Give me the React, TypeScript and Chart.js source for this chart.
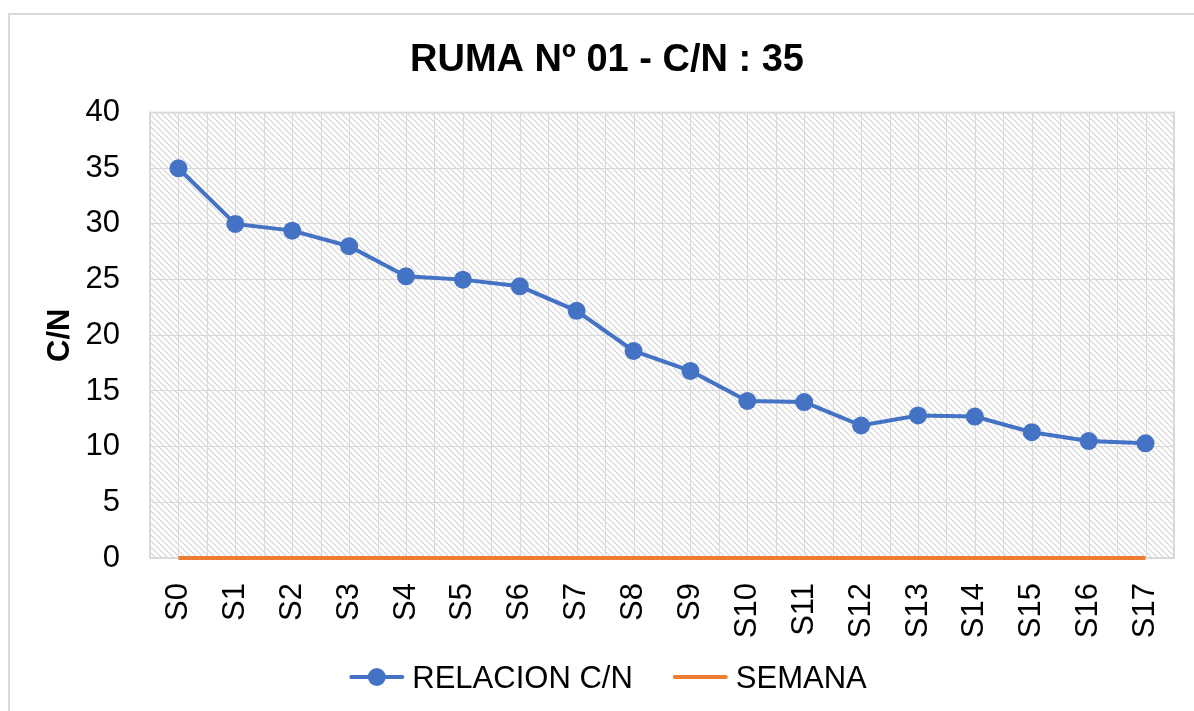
import React, { useEffect, useRef } from "react";
import { Chart, registerables } from "chart.js";

Chart.register(...registerables);

const categories = ["S0", "S1", "S2", "S3", "S4", "S5", "S6", "S7", "S8", "S9", "S10", "S11", "S12", "S13", "S14", "S15", "S16", "S17"];
const relacionCN = [35, 30, 29.4, 28, 25.3, 25, 24.4, 22.2, 18.6, 16.8, 14.1, 14, 11.9, 12.8, 12.7, 11.3, 10.5, 10.3];
const semana = [0, 0, 0, 0, 0, 0, 0, 0, 0, 0, 0, 0, 0, 0, 0, 0, 0, 0];
const titleText = "RUMA Nº 01 - C/N : 35";
const yTitle = "C/N";
const seriesNames = ["RELACION C/N", "SEMANA"];

const FONT = "'Liberation Sans', Arial, sans-serif";
const BLUE = "#4472C4";
const ORANGE = "#ED7D31";
const GRID = "#d9d9d9";

function makePattern(): CanvasPattern | string {
  const s = 6;
  const c = document.createElement("canvas");
  c.width = s;
  c.height = s;
  const g = c.getContext("2d");
  if (!g) return "#f2f2f2";
  g.fillStyle = "#ffffff";
  g.fillRect(0, 0, s, s);
  g.strokeStyle = "#d4d4d4";
  g.lineWidth = 1.2;
  for (const k of [-s, 0, s]) {
    g.beginPath();
    g.moveTo(k, 0);
    g.lineTo(k + s, s);
    g.stroke();
  }
  const p = g.createPattern(c, "repeat");
  return p || "#f2f2f2";
}

export default function App() {
  const ref = useRef<HTMLCanvasElement | null>(null);

  useEffect(() => {
    if (!ref.current) return;
    Chart.defaults.color = "#000";
    Chart.defaults.font.family = FONT;
    const pattern = makePattern();

    const bgPlugin = {
      id: "bgPattern",
      beforeDraw(chart: any) {
        const { ctx, chartArea: a } = chart;
        ctx.save();
        ctx.fillStyle = pattern;
        ctx.fillRect(a.left, a.top, a.right - a.left, a.bottom - a.top);
        ctx.restore();
      },
      beforeDatasetsDraw(chart: any) {
        const { ctx, chartArea: a, scales } = chart;
        const x = scales.x;
        const n = categories.length;
        const step = x.getPixelForValue(1) - x.getPixelForValue(0);
        ctx.save();
        ctx.strokeStyle = GRID;
        ctx.lineWidth = 1;
        const vline = (px: number) => {
          const xx = Math.round(px) + 0.5;
          ctx.beginPath();
          ctx.moveTo(xx, a.top);
          ctx.lineTo(xx, a.bottom);
          ctx.stroke();
        };
        for (let i = 0; i < n; i++) {
          const c = x.getPixelForValue(i);
          vline(c);
          vline(c - step / 2);
        }
        vline(x.getPixelForValue(n - 1) + step / 2);
        ctx.lineWidth = 2;
        ctx.strokeRect(a.left, a.top, a.right - a.left, a.bottom - a.top);
        ctx.restore();
      },
    };

    const legendPlugin = {
      id: "excelLegend",
      afterDraw(chart: any) {
        const { ctx } = chart;
        const iconW = 55;
        const gapIconText = 8;
        const gapItems = 40;
        const centerX = 608;
        const midY = 677;
        const baseY = 688;
        ctx.save();
        ctx.font = `31px ${FONT}`;
        const items = chart.data.datasets.map((d: any) => ({
          text: String(d.label),
          color: d.borderColor,
          point: (d.pointRadius || 0) > 0,
          r: d.pointRadius || 0,
          w: ctx.measureText(String(d.label)).width,
        }));
        let total = 0;
        items.forEach((it: any, i: number) => {
          total += iconW + gapIconText + it.w + (i > 0 ? gapItems : 0);
        });
        let x = centerX - total / 2;
        items.forEach((it: any) => {
          ctx.strokeStyle = it.color;
          ctx.lineWidth = 4;
          ctx.lineCap = "round";
          ctx.beginPath();
          ctx.moveTo(x + 2, midY);
          ctx.lineTo(x + iconW - 2, midY);
          ctx.stroke();
          if (it.point) {
            ctx.fillStyle = it.color;
            ctx.beginPath();
            ctx.arc(x + iconW / 2, midY, it.r, 0, Math.PI * 2);
            ctx.fill();
          }
          ctx.fillStyle = "#000";
          ctx.textAlign = "left";
          ctx.textBaseline = "alphabetic";
          ctx.fillText(it.text, x + iconW + gapIconText, baseY);
          x += iconW + gapIconText + it.w + gapItems;
        });
        ctx.restore();
      },
    };

    const chart = new Chart(ref.current, {
      type: "line",
      data: {
        labels: categories,
        datasets: [
          {
            label: seriesNames[0],
            data: relacionCN,
            borderColor: BLUE,
            backgroundColor: BLUE,
            borderWidth: 4,
            pointRadius: 9,
            pointHoverRadius: 9,
            pointBackgroundColor: BLUE,
            pointBorderColor: BLUE,
            pointBorderWidth: 0,
            tension: 0,
            clip: false,
          },
          {
            label: seriesNames[1],
            data: semana,
            borderColor: ORANGE,
            backgroundColor: ORANGE,
            borderWidth: 4,
            pointRadius: 0,
            tension: 0,
            clip: false,
          },
        ],
      },
      options: {
        responsive: false,
        animation: false,
        layout: { padding: { left: 40, right: 20, top: 0, bottom: 67 } },
        plugins: {
          tooltip: { enabled: false },
          legend: { display: false },
          title: {
            display: true,
            text: titleText,
            color: "#000",
            font: { family: FONT, size: 38, weight: "bold" },
            padding: { top: 38, bottom: 29 },
          },
        },
        scales: {
          x: {
            type: "category",
            offset: true,
            grid: { display: false, drawTicks: false },
            border: { display: false },
            ticks: {
              autoSkip: false,
              minRotation: 90,
              maxRotation: 90,
              padding: 25,
              color: "#000",
              font: { family: FONT, size: 31 },
            },
            afterFit: (s: any) => {
              s.height = 86;
              s.paddingLeft = 0;
              s.paddingRight = 0;
            },
          },
          y: {
            min: 0,
            max: 40,
            ticks: {
              stepSize: 5,
              padding: 30,
              color: "#000",
              font: { family: FONT, size: 31 },
            },
            grid: { color: GRID, lineWidth: 1, drawTicks: false },
            border: { display: false },
            title: {
              display: true,
              text: yTitle,
              color: "#000",
              font: { family: FONT, size: 31, weight: "bold" },
              padding: { top: 2, bottom: 0 },
            },
            afterFit: (s: any) => {
              s.width = 110;
              s.paddingTop = 0;
              s.paddingBottom = 0;
            },
          },
        },
      },
      plugins: [bgPlugin, legendPlugin],
    } as any);

    return () => chart.destroy();
  }, []);

  return (
    <div style={{ position: "fixed", left: 0, top: 0, width: 1194, height: 711, overflow: "hidden", background: "#fff" }}>
      <div
        style={{
          position: "absolute",
          left: 8,
          top: 13,
          width: 1300,
          height: 800,
          border: "2px solid #d9d9d9",
          boxSizing: "border-box",
        }}
      />
      <canvas ref={ref} width={1194} height={711} style={{ position: "absolute", left: 0, top: 0, width: 1194, height: 711 }} />
    </div>
  );
}
